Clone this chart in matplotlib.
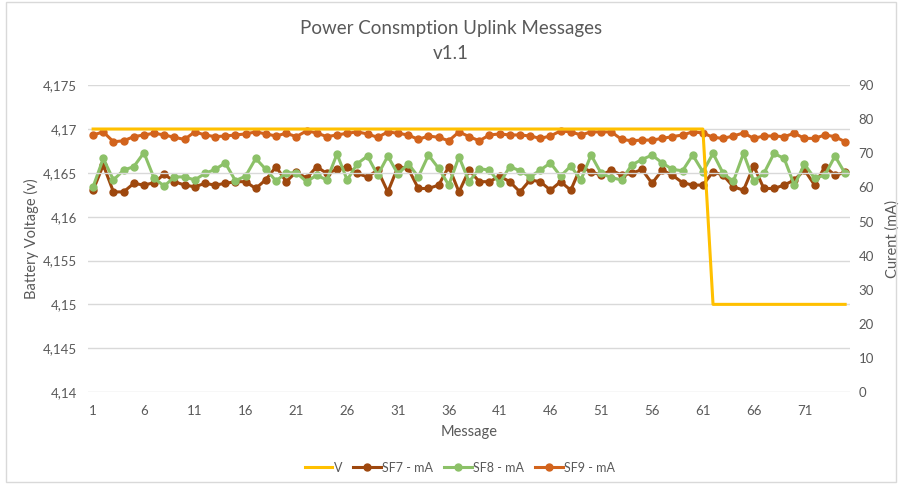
import matplotlib
matplotlib.use("Agg")
import matplotlib.pyplot as plt
from matplotlib.ticker import FuncFormatter, MultipleLocator

plt.rcParams["font.family"] = ["Lato", "DejaVu Sans"]

# Données
messages = list(range(1, 76))
volt = [4.17] * 61 + [4.15] * 14

sf7 = [59.2, 66.6, 58.7, 58.7, 61.2, 60.7, 61.4, 63.9, 61.7, 60.7, 60.2, 61.2, 60.7,
       61.2, 61.7, 61.7, 59.7, 62.3, 66.1, 61.7, 64.6, 62.7, 66.1, 64.1, 65.3, 66.1,
       64.1, 63.1, 65.1, 58.7, 66.1, 65.6, 59.7, 59.7, 60.7, 66.1, 58.7, 65.1, 61.7,
       61.7, 63.3, 61.7, 58.7, 62.2, 61.7, 59.2, 61.7, 59.2, 66.1, 64.6, 63.6, 65.1,
       63.6, 64.1, 65.3, 61.2, 65.1, 63.6, 61.4, 60.7, 60.7, 64.6, 63.6, 60.2, 59.2,
       66.3, 59.7, 59.7, 60.7, 62.2, 65.1, 60.7, 66.1, 63.6, 64.4]

sf8 = [60.2, 68.5, 62.2, 65.1, 66.1, 70.2, 62.7, 60.4, 63.1, 63.1, 62.2, 64.1, 65.3,
       67.2, 62.0, 63.3, 68.5, 65.3, 61.9, 64.3, 64.3, 61.7, 63.6, 62.2, 69.8, 62.2,
       67.0, 69.2, 63.6, 69.2, 63.9, 67.0, 63.1, 69.5, 65.6, 60.7, 69.0, 61.7, 65.5,
       65.1, 61.2, 66.1, 64.9, 63.1, 65.1, 67.2, 63.3, 66.3, 62.2, 69.5, 64.1, 62.9,
       62.2, 66.6, 68.2, 69.5, 67.2, 65.3, 64.9, 69.5, 64.6, 70.0, 64.1, 61.8, 70.0,
       61.9, 64.1, 70.0, 68.5, 60.7, 66.8, 62.7, 63.6, 69.2, 64.1]

sf9 = [75.4, 76.3, 73.4, 73.7, 74.9, 75.4, 75.9, 75.4, 74.7, 74.1, 76.3, 75.4, 74.9,
       75.1, 75.4, 75.7, 76.3, 75.7, 75.1, 75.9, 74.9, 76.6, 76.0, 74.9, 75.4, 75.9,
       76.3, 75.7, 74.7, 76.3, 75.9, 75.4, 74.1, 75.1, 74.7, 73.7, 76.3, 74.9, 73.7,
       75.4, 75.7, 75.4, 75.4, 75.1, 74.4, 75.1, 76.6, 76.3, 75.4, 76.3, 76.3, 76.3,
       74.1, 73.7, 73.9, 73.9, 74.4, 74.9, 75.4, 76.3, 76.0, 74.7, 74.4, 75.1, 76.0,
       74.4, 75.1, 75.1, 74.9, 75.9, 74.4, 74.4, 75.4, 74.9, 73.4]

gris = "#595959"

fig = plt.figure(figsize=(9.02, 4.84), dpi=100)
ax = fig.add_axes([0.0976, 0.19, 0.845, 0.634])
ax2 = ax.twinx()

l1, = ax.plot(messages, volt, color="#FFC000", lw=2.2, label="V", zorder=3)
l2, = ax2.plot(messages, sf7, color="#9E480E", lw=2.2, marker="o", ms=5, label="SF7 - mA")
l3, = ax2.plot(messages, sf8, color="#8CC168", lw=2.2, marker="o", ms=5, label="SF8 - mA")
l4, = ax2.plot(messages, sf9, color="#D2631C", lw=2.2, marker="o", ms=5, label="SF9 - mA")

ax.set_zorder(ax2.get_zorder() + 1)
ax.patch.set_visible(False)

ax.set_xlim(0.5, 75.5)
ax.set_ylim(4.14, 4.175)
ax.yaxis.set_major_locator(MultipleLocator(0.005))
ax.yaxis.set_major_formatter(FuncFormatter(lambda v, p: f"{round(v, 3):g}".replace(".", ",")))
ax.set_xticks(range(1, 76, 5))
ax2.set_ylim(0, 90)
ax2.yaxis.set_major_locator(MultipleLocator(10))

ax.grid(axis="y", color="#D9D9D9", lw=1)
for a in (ax, ax2):
    for s in a.spines.values():
        s.set_visible(False)
    a.tick_params(length=0, colors=gris, labelsize=9.5)
ax.tick_params(axis="y", pad=8)
ax.tick_params(axis="x", pad=9)
ax2.tick_params(axis="y", pad=6)

ax.set_xlabel("Message", color=gris, fontsize=10.5, labelpad=6)
ax.set_ylabel("Battery Voltage (v)", color=gris, fontsize=10.5, labelpad=3)
ax2.set_ylabel("Curent (mA)", color=gris, fontsize=10.5, labelpad=8)

fig.suptitle("Power Consmption Uplink Messages\nv1.1", color=gris, fontsize=13.5,
             y=0.958, linespacing=1.55)

fig.legend(handles=[l1, l2, l3, l4], loc="center", bbox_to_anchor=(0.51, 0.034),
           ncol=4, frameon=False, fontsize=9, labelcolor=gris,
           handlelength=2.2, handletextpad=0.1, columnspacing=0.9)

fig.add_artist(plt.Rectangle((0.007, 0.005), 0.986, 0.99, transform=fig.transFigure,
                             fill=False, edgecolor="#D9D9D9", lw=1))

plt.savefig("out.png", dpi=100)
